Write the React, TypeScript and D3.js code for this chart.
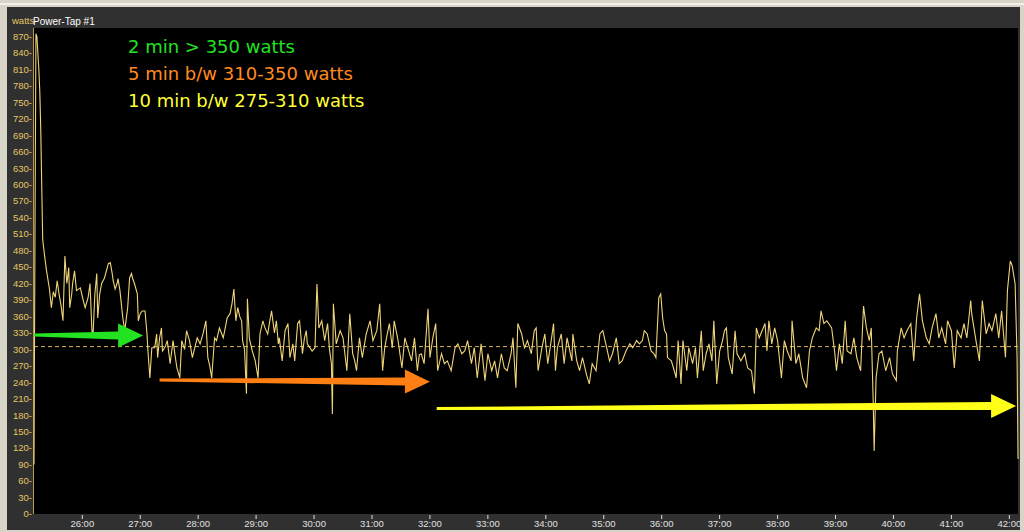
import React from "react";
import * as d3 from "d3";

// Power samples: [clock seconds, watts]
const powerSamples: [number, number][] = [
  [1510, 90], [1511, 510], [1512, 875], [1513, 870], [1514, 840], [1515, 810], [1516, 770], [1517, 700], [1518, 600], [1519, 500],
  [1521, 470], [1523, 443], [1526, 410], [1528, 376], [1530, 405], [1532, 395], [1534, 425], [1536, 400], [1538, 380], [1540, 352],
  [1542, 470], [1544, 420], [1546, 449], [1547, 376], [1549, 400], [1550, 420], [1552, 443], [1554, 407], [1558, 412], [1561, 389],
  [1563, 376], [1566, 394], [1568, 420], [1570, 334], [1571, 321], [1573, 400], [1575, 438], [1576, 357], [1578, 400], [1580, 420],
  [1583, 430], [1587, 456], [1589, 458], [1591, 438], [1592, 425], [1594, 410], [1596, 420], [1597, 429], [1599, 407], [1602, 357],
  [1604, 334], [1607, 376], [1609, 430], [1611, 438], [1612, 430], [1614, 420], [1617, 401], [1618, 352], [1620, 365], [1622, 370],
  [1625, 370], [1627, 328], [1628, 297], [1630, 248], [1632, 303], [1635, 303], [1637, 328], [1638, 285], [1640, 320], [1642, 339],
  [1643, 297], [1646, 305], [1648, 316], [1651, 274], [1654, 316], [1656, 290], [1658, 266], [1661, 248], [1663, 316], [1666, 300],
  [1668, 334], [1671, 316], [1674, 285], [1679, 321], [1682, 310], [1685, 328], [1688, 352], [1690, 285], [1692, 270], [1694, 248],
  [1697, 321], [1699, 316], [1702, 339], [1706, 321], [1710, 357], [1713, 365], [1715, 383], [1717, 410], [1719, 352], [1721, 376],
  [1723, 360], [1725, 352], [1726, 316], [1728, 300], [1730, 219], [1731, 392], [1733, 320], [1736, 297], [1739, 280], [1742, 248],
  [1744, 328], [1747, 352], [1749, 340], [1752, 328], [1754, 350], [1756, 370], [1759, 330], [1761, 352], [1763, 310], [1764, 321],
  [1767, 279], [1770, 334], [1773, 347], [1775, 285], [1778, 310], [1780, 279], [1783, 347], [1785, 352], [1788, 292], [1790, 320],
  [1792, 334], [1793, 310], [1798, 297], [1801, 303], [1803, 419], [1805, 339], [1808, 352], [1811, 316], [1814, 347], [1816, 300],
  [1818, 274], [1819, 182], [1820, 383], [1823, 310], [1827, 334], [1830, 321], [1834, 261], [1837, 365], [1840, 292], [1842, 280],
  [1844, 261], [1847, 321], [1850, 285], [1854, 328], [1858, 352], [1861, 316], [1865, 334], [1868, 383], [1871, 261], [1873, 300],
  [1875, 321], [1878, 347], [1881, 303], [1883, 352], [1887, 316], [1891, 266], [1894, 321], [1897, 303], [1901, 279], [1904, 321],
  [1907, 261], [1909, 290], [1911, 292], [1914, 274], [1918, 374], [1920, 285], [1923, 321], [1926, 347], [1928, 261], [1932, 292],
  [1935, 274], [1938, 279], [1942, 261], [1946, 303], [1949, 310], [1953, 292], [1956, 297], [1959, 316], [1963, 274], [1966, 303],
  [1969, 248], [1973, 310], [1977, 243], [1980, 292], [1984, 261], [1987, 279], [1990, 248], [1994, 292], [1997, 266], [2000, 261],
  [2004, 292], [2006, 321], [2009, 230], [2011, 347], [2015, 328], [2017, 310], [2018, 303], [2021, 316], [2025, 292], [2028, 334],
  [2030, 339], [2032, 261], [2036, 303], [2039, 328], [2042, 274], [2046, 321], [2048, 347], [2050, 261], [2052, 303], [2056, 328],
  [2059, 274], [2062, 321], [2067, 279], [2068, 328], [2072, 279], [2075, 261], [2078, 285], [2082, 255], [2085, 237], [2088, 274],
  [2092, 261], [2096, 328], [2099, 334], [2103, 303], [2106, 279], [2109, 292], [2113, 321], [2116, 274], [2119, 279], [2123, 297],
  [2127, 310], [2130, 303], [2134, 316], [2137, 310], [2140, 316], [2142, 334], [2145, 328], [2149, 297], [2152, 292], [2154, 285],
  [2157, 394], [2159, 401], [2161, 357], [2163, 334], [2165, 328], [2166, 285], [2170, 279], [2173, 261], [2175, 248], [2177, 316],
  [2180, 237], [2182, 316], [2186, 261], [2188, 303], [2192, 274], [2195, 303], [2197, 248], [2201, 334], [2203, 261], [2206, 292],
  [2209, 310], [2212, 279], [2214, 352], [2217, 237], [2220, 297], [2223, 316], [2225, 334], [2227, 339], [2229, 285], [2233, 255],
  [2236, 334], [2238, 292], [2242, 279], [2246, 292], [2249, 266], [2253, 261], [2256, 219], [2258, 339], [2261, 321], [2264, 334],
  [2267, 347], [2269, 297], [2271, 352], [2274, 310], [2277, 339], [2280, 316], [2284, 248], [2287, 316], [2290, 297], [2294, 279],
  [2295, 352], [2299, 274], [2302, 292], [2306, 248], [2310, 230], [2313, 297], [2316, 321], [2320, 339], [2323, 334], [2325, 370],
  [2328, 347], [2331, 352], [2336, 339], [2339, 297], [2341, 261], [2344, 310], [2347, 274], [2350, 352], [2352, 297], [2356, 292],
  [2359, 321], [2362, 285], [2366, 261], [2369, 379], [2372, 339], [2375, 316], [2377, 339], [2379, 206], [2380, 115], [2382, 248],
  [2385, 292], [2388, 297], [2392, 261], [2396, 285], [2399, 255], [2403, 243], [2404, 297], [2408, 339], [2411, 321], [2414, 334],
  [2418, 347], [2421, 279], [2424, 357], [2427, 401], [2430, 352], [2434, 321], [2437, 310], [2440, 339], [2444, 365], [2447, 321],
  [2450, 339], [2454, 310], [2456, 352], [2460, 334], [2463, 266], [2466, 334], [2470, 321], [2473, 347], [2476, 321], [2480, 389],
  [2481, 365], [2486, 310], [2489, 279], [2492, 389], [2496, 328], [2499, 347], [2502, 334], [2506, 365], [2509, 321], [2512, 370],
  [2516, 285], [2518, 407], [2521, 461], [2523, 452], [2526, 419], [2528, 285], [2529, 100],
];

const averageWatts = 305;

const yTickValues: number[] = d3.range(0, 871, 30);
const xTickMinutes: number[] = [26, 27, 28, 29, 30, 31, 32, 33, 34, 35, 36, 37, 38, 39, 40, 41, 42];

const legendLabels: string[] = ["2 min > 350 watts", "5 min b/w 310-350 watts", "10 min b/w 275-310 watts"];
const legendColors: string[] = ["#22e222", "#ff8a1e", "#ffff33"];

// Arrow annotations: start time (s), start watts, end time (s), end watts
const arrowStartTimes: number[] = [1510, 1640, 1927];
const arrowEndTimes: number[] = [1623, 1920, 2527];
const arrowStartWatts: number[] = [326, 244, 192];
const arrowEndWatts: number[] = [325, 241, 197];
const arrowColors: string[] = ["#22e222", "#ff7f14", "#ffff1a"];

const W = 1024;
const H = 532;
const plotL = 34;
const plotR = 1018;
const plotT = 28;
const plotB = 514;

export default function App() {
  React.useEffect(() => {
    document.body.style.margin = "0";
  }, []);

  const x = d3.scaleLinear().domain([1510, 2530]).range([plotL, plotR + 1]);
  const y = d3.scaleLinear().domain([0, 870]).range([514, 36.5]);

  const line = d3
    .line<[number, number]>()
    .x((d) => x(d[0]))
    .y((d) => y(d[1]));

  const fmt = (m: number) => `${m}:00`;

  const arrowPath = (i: number) => {
    const x0 = x(arrowStartTimes[i]);
    const x1 = x(arrowEndTimes[i]);
    const y0 = y(arrowStartWatts[i]);
    const y1 = y(arrowEndWatts[i]);
    const headLen = 25;
    const headHalf = 12;
    const xb = x1 - headLen;
    const t = (xb - x0) / (x1 - x0);
    const yb = y0 + (y1 - y0) * t;
    const wStart = 1.5;
    const wEnd = 4;
    return `M${x0},${y0 - wStart} L${xb},${yb - wEnd} L${xb},${yb - headHalf} L${x1},${y1} L${xb},${yb + headHalf} L${xb},${yb + wEnd} L${x0},${y0 + wStart} Z`;
  };

  return (
    <svg
      width={W}
      height={H}
      style={{ display: "block", position: "absolute", left: 0, top: 0 }}
      fontFamily="'Liberation Sans', Arial, sans-serif"
    >
      <rect x={0} y={0} width={W} height={H} fill="#d8d4c8" />
      <rect x={0} y={3} width={W} height={2} fill="#f2f0e8" />
      <rect x={7} y={7} width={plotR + 2 - 7} height={530 - 7} fill="#303030" />
      <rect x={plotL} y={plotT} width={plotR - plotL} height={plotB - plotT} fill="#000" />

      <text x={12} y={24} fontSize={9.5} fill="#e6c664">watts</text>
      <text x={33} y={25} fontSize={10} fill="#ffffff">Power-Tap #1</text>

      {yTickValues.map((v) => (
        <text key={v} x={32} y={y(v)} dy="0.35em" fontSize={9.5} fill="#e6c664" textAnchor="end">
          {`${v}-`}
        </text>
      ))}

      {xTickMinutes.map((m) => (
        <g key={m}>
          <line x1={x(m * 60)} x2={x(m * 60)} y1={515} y2={519} stroke="#e0e0e0" strokeWidth={1} />
          <text x={x(m * 60)} y={527} fontSize={9.5} fill="#e0e0e0" textAnchor="middle">
            {fmt(m)}
          </text>
        </g>
      ))}

      <line x1={plotL - 0.5} x2={plotL - 0.5} y1={plotT} y2={plotB} stroke="#b89a50" strokeWidth={1} />

      <line
        x1={plotL}
        x2={plotR}
        y1={y(averageWatts)}
        y2={y(averageWatts)}
        stroke="#d8b85a"
        strokeWidth={1}
        strokeDasharray="4,3"
      />

      <path d={line(powerSamples) || ""} fill="none" stroke="#f0d478" strokeWidth={1.1} />

      {arrowColors.map((c, i) => (
        <path key={i} d={arrowPath(i)} fill={c} />
      ))}

      {legendLabels.map((t, i) => (
        <text
          key={t}
          x={128}
          y={53 + i * 27}
          fontSize={18}
          fontFamily="'DejaVu Sans', Verdana, sans-serif"
          fill={legendColors[i]}
        >
          {t}
        </text>
      ))}
    </svg>
  );
}
